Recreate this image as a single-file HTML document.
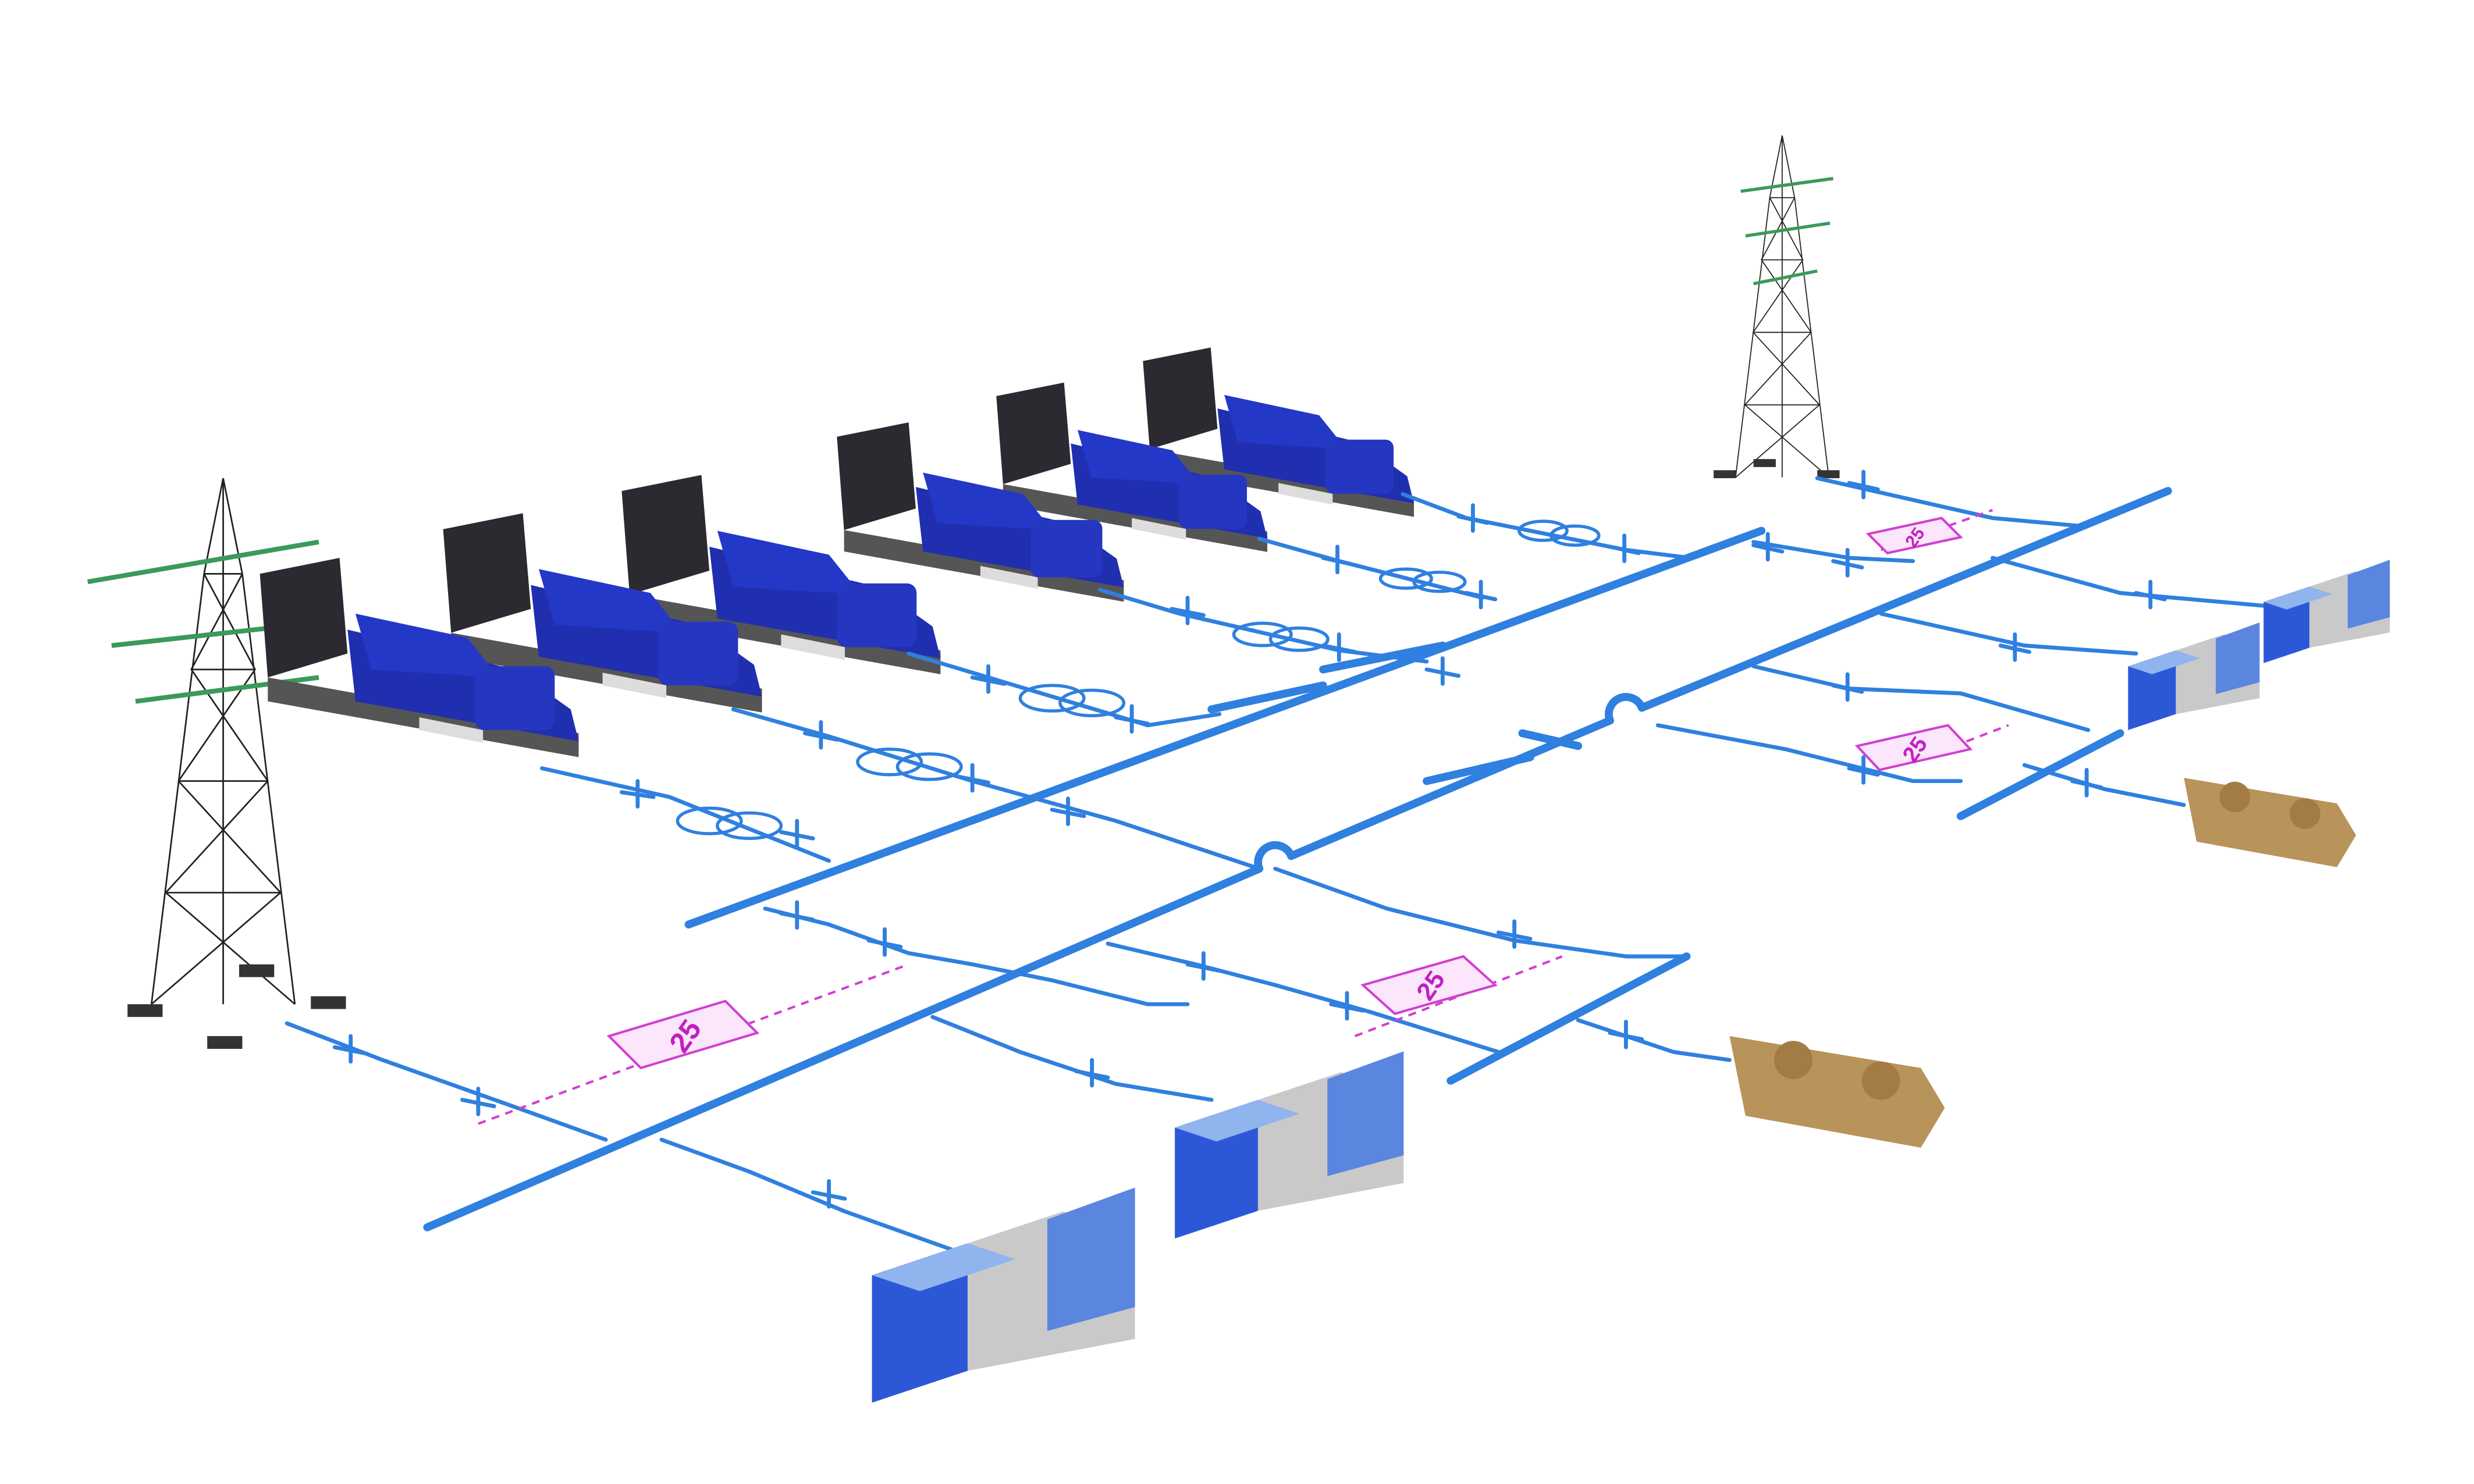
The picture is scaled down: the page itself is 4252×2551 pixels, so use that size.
<!DOCTYPE html>
<html><head><meta charset="utf-8"><style>
html,body{margin:0;padding:0;background:#fff;}
svg{display:block}
</style></head><body>
<svg width="4252" height="2551" viewBox="0 0 1552 931" preserveAspectRatio="none" xmlns="http://www.w3.org/2000/svg">
<defs>
<g id="gen">
 <polygon points="0,10 50,0 55,60 5,75" fill="#2a2a30"/>
 <polygon points="5,75 200,110 200,125 5,90" fill="#555"/>
 <polygon points="55,45 160,70 195,95 200,115 60,90" fill="#1f2fb0"/>
 <polygon points="60,35 130,50 150,75 70,70" fill="#2438c8"/>
 <rect x="135" y="68" width="50" height="40" rx="6" fill="#2537c0"/>
 <polygon points="100,100 140,108 140,116 100,108" fill="#ddd"/>
</g>
<g id="tower" stroke="#222" stroke-width="1" fill="none">
 <path d="M0,0 L-12,60 L-45,330 M0,0 L12,60 L45,330 M-12,60 L12,60 M-20,120 L20,120 M-28,190 L28,190 M-36,260 L36,260 M-12,60 L20,120 L-28,190 L36,260 L-45,330 M12,60 L-20,120 L28,190 L-36,260 L45,330 M0,0 L0,330"/>
</g>
<g id="bld">
 <polygon points="0,20 60,0 60,80 0,100" fill="#2c58d8"/>
 <polygon points="60,0 120,-20 165,-5 165,60 60,80" fill="#c9c9c9"/>
 <polygon points="110,-15 165,-35 165,40 110,55" fill="#5a86e0"/>
 <polygon points="0,20 60,0 90,10 30,30" fill="#8fb4ee"/>
</g>
<g id="chl">
 <polygon points="0,10 120,30 135,55 120,80 10,60" fill="#b8935a"/>
 <circle cx="40" cy="25" r="12" fill="#a37c45"/><circle cx="95" cy="38" r="12" fill="#a37c45"/>
</g>
</defs>
<rect width="1552" height="931" fill="#fff"/>

<!-- towers -->
<use href="#tower" x="140" y="300"/>
<g stroke="#3b9a5a" stroke-width="3"><line x1="55" y1="365" x2="200" y2="340"/><line x1="70" y1="405" x2="205" y2="390"/><line x1="85" y1="440" x2="200" y2="425"/></g>
<g fill="#333"><rect x="80" y="630" width="22" height="8"/><rect x="130" y="650" width="22" height="8"/><rect x="150" y="605" width="22" height="8"/><rect x="195" y="625" width="22" height="8"/></g>
<g transform="translate(1118,85) scale(0.65)"><use href="#tower"/></g>
<g stroke="#3b9a5a" stroke-width="2"><line x1="1092" y1="120" x2="1150" y2="112"/><line x1="1095" y1="148" x2="1148" y2="140"/><line x1="1100" y1="178" x2="1140" y2="170"/></g>
<g fill="#333"><rect x="1075" y="295" width="14" height="5"/><rect x="1100" y="288" width="14" height="5"/><rect x="1140" y="295" width="14" height="5"/></g>

<!-- generators -->
<use href="#gen" x="717" y="218" transform="translate(717,218) scale(0.85) translate(-717,-218)"/>
<use href="#gen" x="625" y="240" transform="translate(625,240) scale(0.85) translate(-625,-240)"/>
<use href="#gen" x="525" y="265" transform="translate(525,265) scale(0.9) translate(-525,-265)"/>
<use href="#gen" x="390" y="298"/>
<use href="#gen" x="278" y="322"/>
<use href="#gen" x="163" y="350"/>

<g stroke="#2f80df" fill="none" stroke-linecap="round" stroke-linejoin="round">
 <!-- buses -->
 <g stroke-width="5">
  <line x1="432" y1="580" x2="1105" y2="333"/>
  <line x1="268" y1="770" x2="790" y2="545"/>
  <path d="M790,545 a10,10 0 0 1 20,-8"/>
  <line x1="810" y1="537" x2="1010" y2="452"/>
  <path d="M1010,452 a10,10 0 0 1 20,-8"/>
  <line x1="1030" y1="444" x2="1360" y2="308"/>
  <line x1="910" y1="678" x2="1058" y2="600"/>
  <line x1="1230" y1="512" x2="1330" y2="460"/>
  <line x1="760" y1="445" x2="830" y2="430"/>
  <line x1="830" y1="420" x2="905" y2="405"/>
  <line x1="895" y1="490" x2="960" y2="475"/>
  <line x1="955" y1="460" x2="990" y2="468"/>
 </g>
 <g stroke-width="2.5">
  <!-- generator feeders -->
  <path d="M340,482 L420,500 L520,540"/>
  <path d="M460,445 L520,462 L610,490 L700,515 L790,545"/>
  <path d="M570,410 L630,428 L720,455 L765,448"/>
  <path d="M690,370 L740,385 L840,408 L895,415"/>
  <path d="M790,338 L840,352 L930,375"/>
  <path d="M880,310 L920,325 L1020,345 L1060,350"/>
  <!-- right side feeders -->
  <path d="M1140,300 L1250,325 L1305,330"/>
  <path d="M1100,340 L1160,350 L1200,352"/>
  <path d="M1250,350 L1330,372 L1420,380"/>
  <path d="M1180,385 L1270,405 L1340,410"/>
  <path d="M1100,418 L1160,432 L1230,435 L1310,458"/>
  <path d="M1040,455 L1120,470 L1200,490 L1230,490"/>
  <path d="M1270,480 L1320,495 L1370,505"/>
  <!-- lower feeders -->
  <path d="M480,570 L520,580 L570,598 L610,605 L660,615 L720,630 L745,630"/>
  <path d="M180,642 L240,665 L330,697 L380,715"/>
  <path d="M415,715 L470,735 L530,760 L600,785"/>
  <path d="M585,638 L640,660 L700,680 L760,690"/>
  <path d="M695,592 L750,605 L800,618 L860,635 L940,660"/>
  <path d="M800,545 L870,570 L950,590 L1020,600 L1058,600"/>
  <path d="M990,640 L1050,660 L1085,665"/>
 </g>
 <!-- transformers -->
 <g stroke-width="2">
  <ellipse cx="445" cy="515" rx="20" ry="8"/><ellipse cx="470" cy="518" rx="20" ry="8"/>
  <ellipse cx="558" cy="478" rx="20" ry="8"/><ellipse cx="583" cy="481" rx="20" ry="8"/>
  <ellipse cx="660" cy="438" rx="20" ry="8"/><ellipse cx="685" cy="441" rx="20" ry="8"/>
  <ellipse cx="792" cy="398" rx="18" ry="7"/><ellipse cx="815" cy="401" rx="18" ry="7"/>
  <ellipse cx="882" cy="363" rx="16" ry="6"/><ellipse cx="903" cy="365" rx="16" ry="6"/>
  <ellipse cx="968" cy="333" rx="15" ry="6"/><ellipse cx="988" cy="336" rx="15" ry="6"/>
 </g>
 <!-- breaker marks -->
 <g stroke-width="2.5">
  <path d="M390,497 l20,3 M400,490 v16"/><path d="M490,522 l20,4 M500,515 v16"/>
  <path d="M505,460 l20,4 M515,453 v16"/><path d="M600,487 l20,4 M610,480 v16"/>
  <path d="M610,425 l20,4 M620,418 v16"/><path d="M700,450 l20,4 M710,443 v16"/>
  <path d="M735,382 l20,4 M745,375 v16"/><path d="M830,405 l20,4 M840,398 v16"/>
  <path d="M830,350 l18,4 M839,343 v16"/><path d="M920,372 l18,4 M929,365 v16"/>
  <path d="M915,324 l18,4 M924,317 v16"/><path d="M1010,343 l18,4 M1019,336 v16"/>
  <path d="M660,508 l20,4 M670,501 v16"/><path d="M895,420 l20,4 M905,413 v16"/>
  <path d="M210,657 l20,4 M220,650 v16"/><path d="M290,690 l20,4 M300,683 v16"/>
  <path d="M490,573 l20,4 M500,566 v16"/><path d="M545,590 l20,4 M555,583 v16"/>
  <path d="M510,748 l20,4 M520,741 v16"/><path d="M675,672 l20,4 M685,665 v16"/>
  <path d="M745,605 l20,4 M755,598 v16"/><path d="M835,630 l20,4 M845,623 v16"/>
  <path d="M940,585 l20,4 M950,578 v16"/><path d="M1010,648 l20,4 M1020,641 v16"/>
  <path d="M1160,303 l18,4 M1169,296 v16"/><path d="M1100,342 l18,4 M1109,335 v16"/>
  <path d="M1150,352 l18,4 M1159,345 v16"/><path d="M1340,372 l18,4 M1349,365 v16"/>
  <path d="M1255,405 l18,4 M1264,398 v16"/><path d="M1150,430 l18,4 M1159,423 v16"/>
  <path d="M1160,482 l18,4 M1169,475 v16"/><path d="M1300,490 l18,4 M1309,483 v16"/>
 </g>
</g>

<!-- 25 boxes -->
<g stroke="#d040d0" fill="none" stroke-width="1.5">
 <line x1="300" y1="705" x2="570" y2="605" stroke-dasharray="5,4"/>
 <line x1="850" y1="650" x2="980" y2="600" stroke-dasharray="5,4"/>
 <line x1="1180" y1="345" x2="1250" y2="320" stroke-dasharray="5,4"/>
 <line x1="1200" y1="478" x2="1260" y2="455" stroke-dasharray="5,4"/>
 <polygon points="382,650 455,628 475,648 402,670" fill="#fbe6fb"/>
 <polygon points="855,618 918,600 938,618 875,636" fill="#fbe6fb"/>
 <polygon points="1172,335 1218,325 1230,337 1184,347" fill="#fbe6fb"/>
 <polygon points="1165,468 1222,455 1236,470 1179,483" fill="#fbe6fb"/>
</g>
<g fill="#c020c0" font-family="Liberation Sans, sans-serif" font-weight="bold" text-anchor="middle">
 <text x="430" y="656" font-size="18" transform="rotate(-55 430 650)">25</text>
 <text x="897" y="624" font-size="16" transform="rotate(-55 897 618)">25</text>
 <text x="1201" y="341" font-size="11" transform="rotate(-55 1201 337)">25</text>
 <text x="1201" y="475" font-size="14" transform="rotate(-55 1201 470)">25</text>
</g>

<!-- buildings & chillers -->
<use href="#bld" x="547" y="780"/>
<g transform="translate(737,690) scale(0.87)"><use href="#bld"/></g>
<g transform="translate(1335,408) scale(0.5)"><use href="#bld"/></g>
<g transform="translate(1420,368) scale(0.48)"><use href="#bld"/></g>
<use href="#chl" x="1085" y="640"/>
<g transform="translate(1370,480) scale(0.8)"><use href="#chl"/></g>
</svg>
</body></html>
